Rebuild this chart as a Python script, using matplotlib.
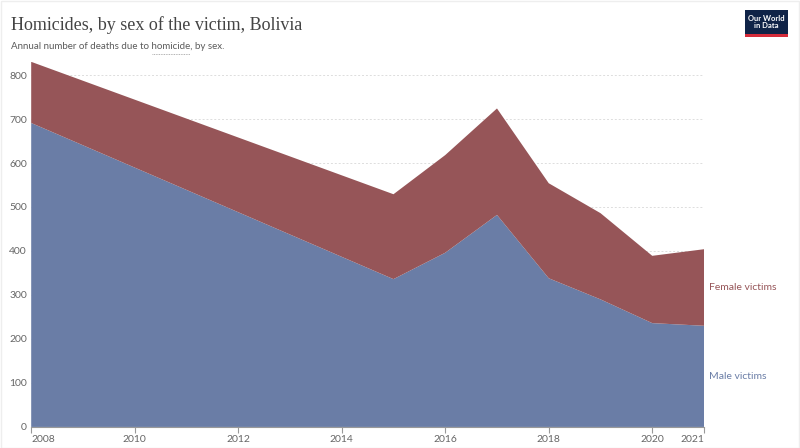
import matplotlib.pyplot as plt
import matplotlib.patches as patches

years = [2008, 2015, 2016, 2017, 2018, 2019, 2020, 2021]
male = [691, 336, 396, 482, 338, 290, 236, 230]
female = [139, 193, 222, 242, 216, 196, 153, 174]

xticks = [2008, 2010, 2012, 2014, 2016, 2018, 2020, 2021]
yticks = [0, 100, 200, 300, 400, 500, 600, 700, 800]

male_color = '#6a7da6'
female_color = '#965558'

fig = plt.figure(figsize=(8, 4.48), dpi=100)
ax = fig.add_axes([0.039, 0.047, 0.841, 0.815])

ax.stackplot(years, male, female, colors=[male_color, female_color], linewidth=0)

ax.set_xlim(2008, 2021)
ax.set_ylim(0, 830)
ax.set_xticks(xticks)
ax.set_yticks(yticks)
ax.set_xticklabels([str(t) for t in xticks], fontsize=7.5, color='#666666', family='Lato')
ax.set_yticklabels([str(t) for t in yticks], fontsize=7.5, color='#666666', family='Lato')
ax.tick_params(axis='y', length=0, pad=3)
ax.tick_params(axis='x', length=4, color='#999999', pad=2)
xl = ax.get_xticklabels()
xl[0].set_ha('left')
xl[-1].set_ha('right')

ax.grid(axis='y', linestyle=(0, (2, 2)), color='#dddddd', linewidth=0.7)
ax.set_axisbelow(True)
for s in ['top', 'right', 'left']:
    ax.spines[s].set_visible(False)
ax.spines['bottom'].set_color('#999999')
ax.spines['bottom'].set_linewidth(0.8)

# series labels on the right
ax.text(2021.1, 316, 'Female victims', color=female_color, fontsize=7.5,
        family='Lato', va='center', ha='left', clip_on=False)
ax.text(2021.1, 114, 'Male victims', color=male_color, fontsize=7.5,
        family='Lato', va='center', ha='left', clip_on=False)

# title and subtitle
fig.text(0.014, 0.945, 'Homicides, by sex of the victim, Bolivia', fontsize=13,
         color='#444444', family='Liberation Serif', va='center', ha='left')

sub_kw = dict(fontsize=7, color='#5b5b5b', family='Lato', va='center', ha='left')
fig.text(0.014, 0.897, 'Annual number of deaths due to homicide, by sex.', **sub_kw)

# measure where "homicide" sits to draw the dotted underline
fig.canvas.draw()
r = fig.canvas.get_renderer()
t1 = fig.text(0.014, 0.5, 'Annual number of deaths due to', **sub_kw)
t2 = fig.text(0.014, 0.5, 'Annual number of deaths due to homicide', **sub_kw)
t3 = fig.text(0.014, 0.5, 'Annual number of deaths due to h', **sub_kw)
t4 = fig.text(0.014, 0.5, 'h', **sub_kw)
w = fig.bbox.width
x2 = t2.get_window_extent(r).x1 / w
x1 = (t3.get_window_extent(r).x1 - t4.get_window_extent(r).width) / w
for t in (t1, t2, t3, t4):
    t.remove()
fig.add_artist(plt.Line2D([x1, x2], [0.879, 0.879], transform=fig.transFigure,
                          color='#999999', linewidth=0.6, linestyle=(0, (1, 1))))

# logo
logo = patches.Rectangle((0.931, 0.92), 0.054, 0.058, transform=fig.transFigure,
                         facecolor='#0f2347', edgecolor='none')
fig.patches.append(logo)
bar = patches.Rectangle((0.931, 0.918), 0.054, 0.005, transform=fig.transFigure,
                        facecolor='#d42b3a', edgecolor='none')
fig.patches.append(bar)
fig.text(0.958, 0.951, 'Our World\nin Data', fontsize=5.5, color='white',
         family='Lato', weight='bold', ha='center', va='center', linespacing=1.0)

# light frame
frame = patches.Rectangle((0.001, 0.001), 0.998, 0.997, transform=fig.transFigure,
                          facecolor='none', edgecolor='#eeeeee', linewidth=1)
fig.patches.append(frame)

fig.savefig('out.png', dpi=100)
